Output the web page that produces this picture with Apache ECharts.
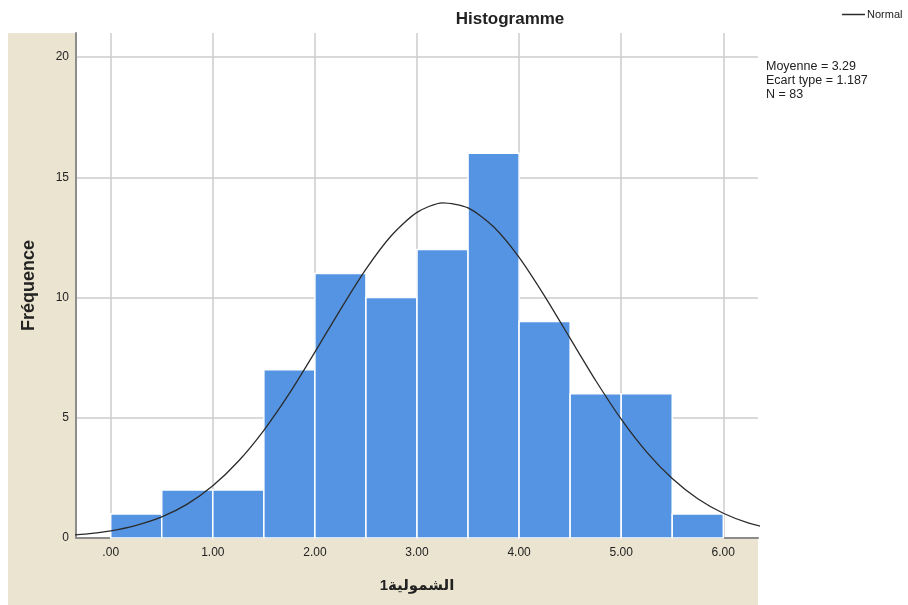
<!DOCTYPE html>
<html>
<head>
<meta charset="utf-8">
<script src="https://cdn.jsdelivr.net/npm/echarts@6/dist/echarts.min.js"></script>
<style>
  html, body { margin: 0; padding: 0; background: #ffffff; }
  #chart { width: 908px; height: 605px; }
</style>
</head>
<body>
<div id="chart"></div>
<script>
// Histogram bins (width 0.5) and frequencies
const binStarts = [0, 0.5, 1, 1.5, 2, 2.5, 3, 3.5, 4, 4.5, 5, 5.5];
const binWidth = 0.5;
const frequencies = [1, 2, 2, 7, 11, 10, 12, 16, 9, 6, 6, 1];

// Fitted normal curve, sampled every 0.25 along the x axis (clipped to the plot)
const curveX = [-0.5, -0.25, 0, 0.25, 0.5, 0.75, 1, 1.25, 1.5, 1.75, 2, 2.25, 2.5, 2.75, 3, 3.25,
                3.5, 3.75, 4, 4.25, 4.5, 4.75, 5, 5.25, 5.5, 5.75, 6, 6.25, 6.5];
const curveY = [0.09, 0.16, 0.30, 0.53, 0.88, 1.41, 2.17, 3.19, 4.48, 6.01, 7.73, 9.50, 11.18, 12.58, 13.54, 13.94,
                13.73, 12.94, 11.67, 10.06, 8.30, 6.55, 4.94, 3.57, 2.47, 1.63, 1.03, 0.62, 0.36];

// Tick values and labels
const xTicks = [0, 1, 2, 3, 4, 5, 6];
const xTickLabels = ['.00', '1.00', '2.00', '3.00', '4.00', '5.00', '6.00'];
const yTicks = [0, 5, 10, 15, 20];

// Summary statistics
const statMean = '3.29';
const statSd = '1.187';
const statN = '83';

const FONT = 'Arial, "Liberation Sans", "DejaVu Sans", sans-serif';

const chart = echarts.init(document.getElementById('chart'), null, { renderer: 'canvas' });

const barData = binStarts.map((s, i) => [s, s + binWidth, frequencies[i]]);
const curveData = curveX.map((x, i) => [x, curveY[i]]);

chart.setOption({
  animation: false,
  backgroundColor: '#ffffff',
  title: {
    text: 'Histogramme',
    left: 505, top: 6,
    textAlign: 'center',
    textStyle: { fontFamily: FONT, fontSize: 17, fontWeight: 'bold', color: '#222' }
  },
  legend: {
    data: [{ name: 'Normal', icon: 'rect' }],
    left: 842, top: 9, padding: 0,
    itemWidth: 23, itemHeight: 1.5, itemGap: 4,
    textStyle: { fontFamily: FONT, fontSize: 11, color: '#222', padding: [0, 0, 0, -3] }
  },
  graphic: [
    {
      type: 'rect', z: -10, silent: true,
      shape: { x: 8, y: 33, width: 750, height: 572 },
      style: { fill: '#ebe4d0' }
    },
    {
      type: 'text', left: 766, top: 60, silent: true,
      style: {
        text: 'Moyenne = ' + statMean + '\nEcart type = ' + statSd + '\nN = ' + statN,
        font: '12.5px ' + FONT, fill: '#222', lineHeight: 14
      }
    }
  ],
  grid: {
    left: 76, top: 33, right: 150, bottom: 67,
    show: true, backgroundColor: '#ffffff', borderWidth: 0
  },
  xAxis: {
    type: 'value', min: -0.34, max: 6.34,
    name: 'الشمولية1', nameLocation: 'middle', nameGap: 40,
    nameTextStyle: { fontFamily: FONT, fontSize: 15, fontWeight: 'bold', color: '#222' },
    axisLine: { show: true, onZero: false, lineStyle: { color: '#8c8c8c', width: 2 } },
    axisTick: { show: false, customValues: xTicks },
    axisLabel: {
      customValues: xTicks,
      formatter: v => xTickLabels[xTicks.indexOf(v)],
      fontFamily: FONT, fontSize: 12, color: '#222', margin: 9
    },
    splitLine: { show: true, lineStyle: { color: '#cccccc', width: 1.5 } }
  },
  yAxis: {
    type: 'value', min: 0, max: 21,
    name: 'Fréquence', nameLocation: 'middle', nameGap: 38, nameRotate: 90,
    nameTextStyle: { fontFamily: FONT, fontSize: 18, fontWeight: 'bold', color: '#222' },
    axisLine: { show: true, onZero: false, lineStyle: { color: '#8c8c8c', width: 2 } },
    axisTick: { show: false, customValues: yTicks },
    axisLabel: {
      customValues: yTicks,
      fontFamily: FONT, fontSize: 12, color: '#222', margin: 7
    },
    splitLine: { show: true, lineStyle: { color: '#cccccc', width: 1.5 } }
  },
  series: [
    {
      name: 'Fréquence',
      type: 'custom',
      z: 2,
      data: barData,
      encode: { x: [0, 1], y: 2 },
      renderItem: function (params, api) {
        const p0 = api.coord([api.value(0), api.value(2)]);
        const p1 = api.coord([api.value(1), 0]);
        return {
          type: 'rect',
          shape: { x: p0[0], y: p0[1], width: p1[0] - p0[0], height: p1[1] - p0[1] },
          style: { fill: '#5494e3', stroke: '#ffffff', lineWidth: 1.5 }
        };
      }
    },
    {
      name: 'Normal',
      type: 'line',
      z: 3,
      clip: true,
      data: curveData,
      smooth: 0.25,
      showSymbol: false,
      lineStyle: { color: '#2b2b2b', width: 1.3 },
      itemStyle: { color: '#2b2b2b' }
    }
  ]
});
</script>
</body>
</html>
